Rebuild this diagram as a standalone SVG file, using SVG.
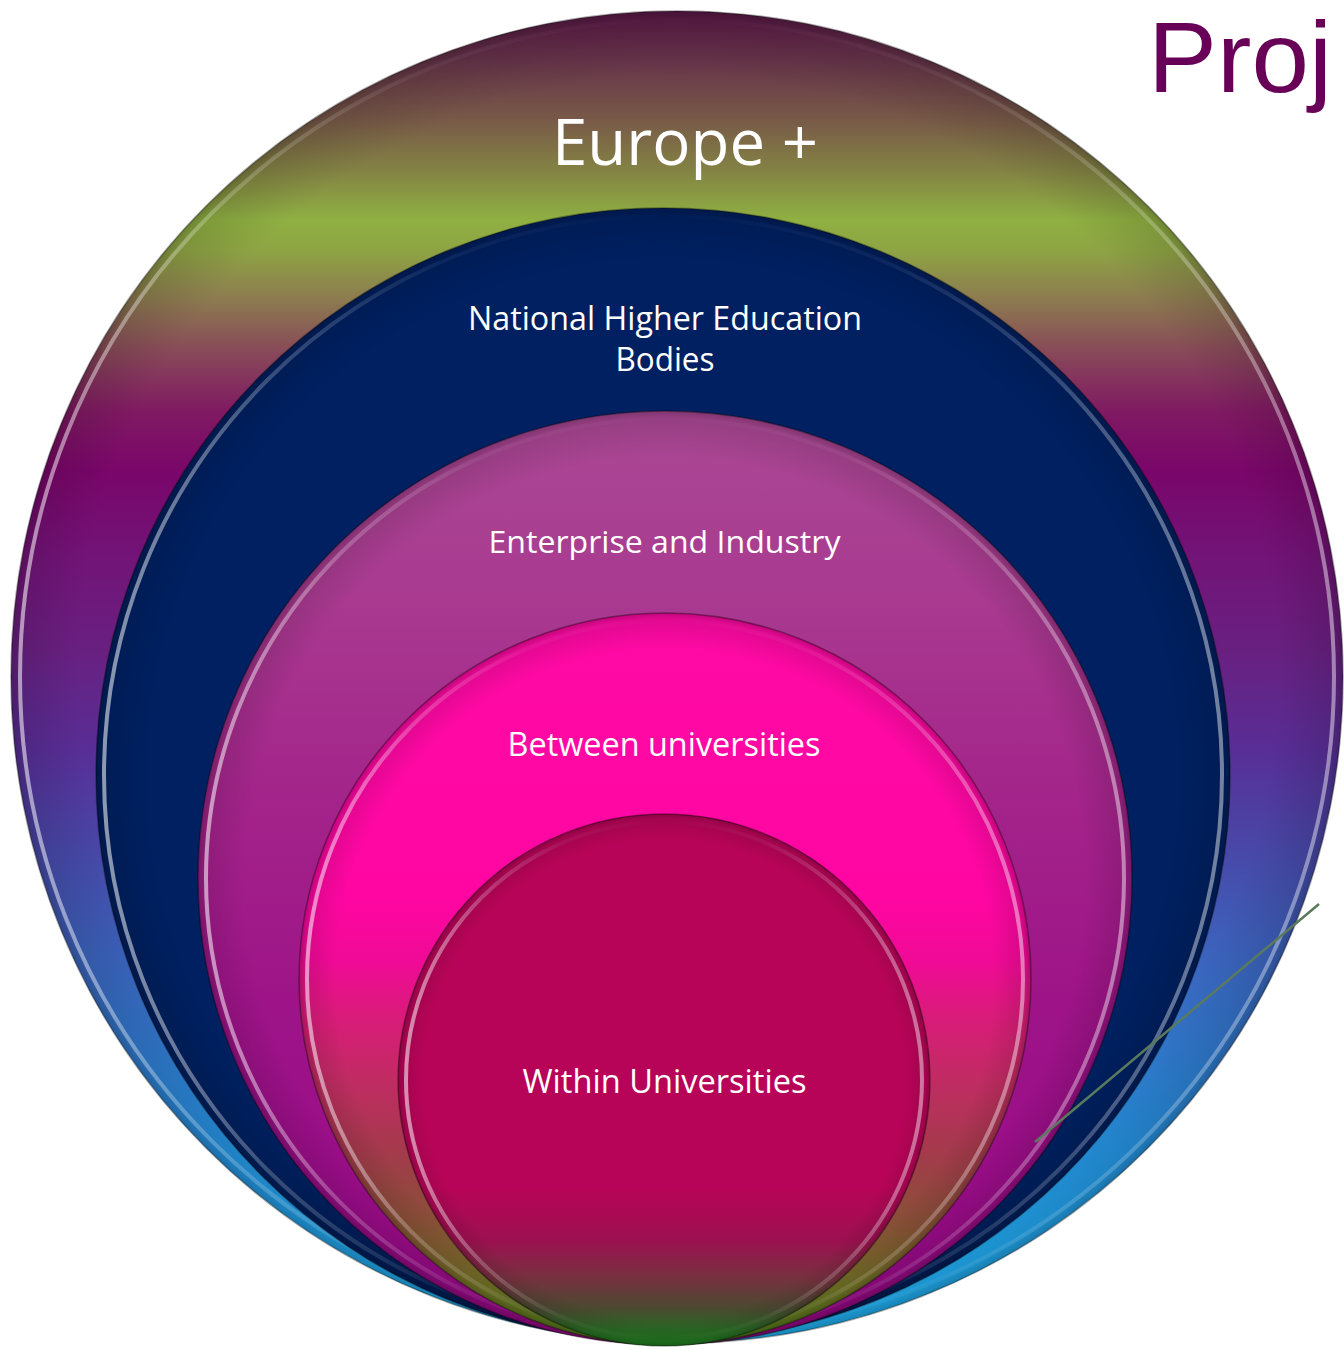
<svg xmlns="http://www.w3.org/2000/svg" width="1344" height="1350" viewBox="0 0 1344 1350">
  <defs>
    <linearGradient id="gEurope" gradientUnits="userSpaceOnUse" x1="0" y1="11" x2="0" y2="1343">
      <stop offset="0" stop-color="#5c1848"/>
      <stop offset="0.037" stop-color="#67344a"/>
      <stop offset="0.082" stop-color="#785a48"/>
      <stop offset="0.119" stop-color="#838244"/>
      <stop offset="0.157" stop-color="#8fb042"/>
      <stop offset="0.18" stop-color="#8ea444"/>
      <stop offset="0.217" stop-color="#8c7a50"/>
      <stop offset="0.255" stop-color="#884a58"/>
      <stop offset="0.30" stop-color="#801a62"/>
      <stop offset="0.345" stop-color="#7a066a"/>
      <stop offset="0.412" stop-color="#721478"/>
      <stop offset="0.48" stop-color="#682080"/>
      <stop offset="0.555" stop-color="#582e96"/>
      <stop offset="0.63" stop-color="#4848a8"/>
      <stop offset="0.705" stop-color="#3c62bc"/>
      <stop offset="0.78" stop-color="#3078cc"/>
      <stop offset="0.855" stop-color="#2490dc"/>
      <stop offset="0.93" stop-color="#20a4e8"/>
      <stop offset="1" stop-color="#20b4f4"/>
    </linearGradient>
    <linearGradient id="gNational" gradientUnits="userSpaceOnUse" x1="0" y1="208" x2="0" y2="1342">
      <stop offset="0" stop-color="#002062"/>
      <stop offset="0.85" stop-color="#002060"/>
      <stop offset="1" stop-color="#001a50"/>
    </linearGradient>
    <linearGradient id="gEnterprise" gradientUnits="userSpaceOnUse" x1="0" y1="411" x2="0" y2="1345">
      <stop offset="0" stop-color="#aa4894"/>
      <stop offset="0.2" stop-color="#a93a90"/>
      <stop offset="0.415" stop-color="#a3248a"/>
      <stop offset="0.63" stop-color="#9e1488"/>
      <stop offset="0.845" stop-color="#9a0c88"/>
      <stop offset="1" stop-color="#900880"/>
    </linearGradient>
    <linearGradient id="gBetween" gradientUnits="userSpaceOnUse" x1="0" y1="613" x2="0" y2="1345">
      <stop offset="0" stop-color="#ff0aa4"/>
      <stop offset="0.39" stop-color="#ff06a2"/>
      <stop offset="0.475" stop-color="#f00a96"/>
      <stop offset="0.555" stop-color="#d81c78"/>
      <stop offset="0.64" stop-color="#c02c62"/>
      <stop offset="0.735" stop-color="#a43a4c"/>
      <stop offset="0.83" stop-color="#8a5038"/>
      <stop offset="0.925" stop-color="#6e7224"/>
      <stop offset="1" stop-color="#4a7818"/>
    </linearGradient>
    <linearGradient id="gWithin" gradientUnits="userSpaceOnUse" x1="0" y1="814" x2="0" y2="1346">
      <stop offset="0" stop-color="#b80458"/>
      <stop offset="0.7" stop-color="#b80458"/>
      <stop offset="0.8" stop-color="#9c1050"/>
      <stop offset="0.87" stop-color="#783040"/>
      <stop offset="0.93" stop-color="#4a4a30"/>
      <stop offset="0.97" stop-color="#2a6a24"/>
      <stop offset="1" stop-color="#1e7a1e"/>
    </linearGradient>
    <linearGradient id="rim" x1="0" y1="0" x2="1" y2="0">
      <stop offset="0" stop-color="#ffffff" stop-opacity="0.55"/>
      <stop offset="0.15" stop-color="#ffffff" stop-opacity="0.22"/>
      <stop offset="0.3" stop-color="#ffffff" stop-opacity="0.05"/>
      <stop offset="0.5" stop-color="#ffffff" stop-opacity="0"/>
      <stop offset="0.7" stop-color="#ffffff" stop-opacity="0.05"/>
      <stop offset="0.85" stop-color="#ffffff" stop-opacity="0.2"/>
      <stop offset="1" stop-color="#ffffff" stop-opacity="0.45"/>
    </linearGradient>
    <radialGradient id="shade" cx="0.5" cy="0.5" r="0.5">
      <stop offset="0.9" stop-color="#000000" stop-opacity="0"/>
      <stop offset="0.985" stop-color="#000000" stop-opacity="0.12"/>
      <stop offset="1" stop-color="#000000" stop-opacity="0.25"/>
    </radialGradient>
  </defs>
  <style>
    .edge { fill: none; stroke: #000000; stroke-opacity: 0.35; stroke-width: 1.5; }
    .rim { fill: none; stroke: url(#rim); stroke-width: 4; }
    .shade { fill: url(#shade); }
    .lbl { font-family: "Open Sans", "Liberation Sans", sans-serif; fill: #ffffff; text-anchor: middle; }
    .title { font-family: "Liberation Sans", "Open Sans", sans-serif; fill: #680058; }
    .conn { stroke: #5a7a5e; stroke-width: 2.5; fill: none; }
  </style>
  <rect width="1344" height="1350" fill="#ffffff"/>

  <g id="europe">
    <circle cx="677" cy="677" r="666" fill="url(#gEurope)"/>
    <circle cx="677" cy="677" r="666" class="shade"/>
    <circle cx="677" cy="677" r="657" class="rim"/>
    <circle cx="677" cy="677" r="666" class="edge"/>
    <text class="lbl" x="685" y="165" font-size="64" textLength="266" lengthAdjust="spacingAndGlyphs">Europe +</text>
  </g>

  <g id="national">
    <circle cx="663" cy="775" r="567" fill="url(#gNational)"/>
    <circle cx="663" cy="775" r="567" class="shade"/>
    <circle cx="663" cy="775" r="559" class="rim"/>
    <circle cx="663" cy="775" r="567" class="edge"/>
    <text class="lbl" x="665" y="330" font-size="32" textLength="394" lengthAdjust="spacingAndGlyphs">National Higher Education</text>
    <text class="lbl" x="665" y="371" font-size="32" textLength="99" lengthAdjust="spacingAndGlyphs">Bodies</text>
  </g>

  <g id="enterprise">
    <circle cx="665" cy="878" r="467" fill="url(#gEnterprise)"/>
    <circle cx="665" cy="878" r="467" class="shade"/>
    <circle cx="665" cy="878" r="459" class="rim"/>
    <circle cx="665" cy="878" r="467" class="edge"/>
    <text class="lbl" x="664.5" y="553" font-size="31" textLength="352" lengthAdjust="spacingAndGlyphs">Enterprise and Industry</text>
  </g>

  <g id="between">
    <circle cx="665" cy="979" r="366" fill="url(#gBetween)"/>
    <circle cx="665" cy="979" r="366" class="shade"/>
    <circle cx="665" cy="979" r="358" class="rim"/>
    <circle cx="665" cy="979" r="366" class="edge"/>
    <text class="lbl" x="664" y="756" font-size="32" textLength="313" lengthAdjust="spacingAndGlyphs">Between universities</text>
  </g>

  <g id="within">
    <circle cx="664" cy="1080" r="266" fill="url(#gWithin)"/>
    <circle cx="664" cy="1080" r="266" class="shade"/>
    <circle cx="664" cy="1080" r="258" class="rim"/>
    <circle cx="664" cy="1080" r="266" class="edge"/>
    <text class="lbl" x="664.5" y="1093" font-size="32" textLength="284" lengthAdjust="spacingAndGlyphs">Within Universities</text>
  </g>

  <g id="title">
    <text class="title" x="1148" y="92" font-size="100" textLength="184" lengthAdjust="spacingAndGlyphs">Proj</text>
  </g>

  <g id="connectors">
    <line class="conn" x1="1319" y1="904" x2="1035" y2="1142"/>
  </g>
</svg>
